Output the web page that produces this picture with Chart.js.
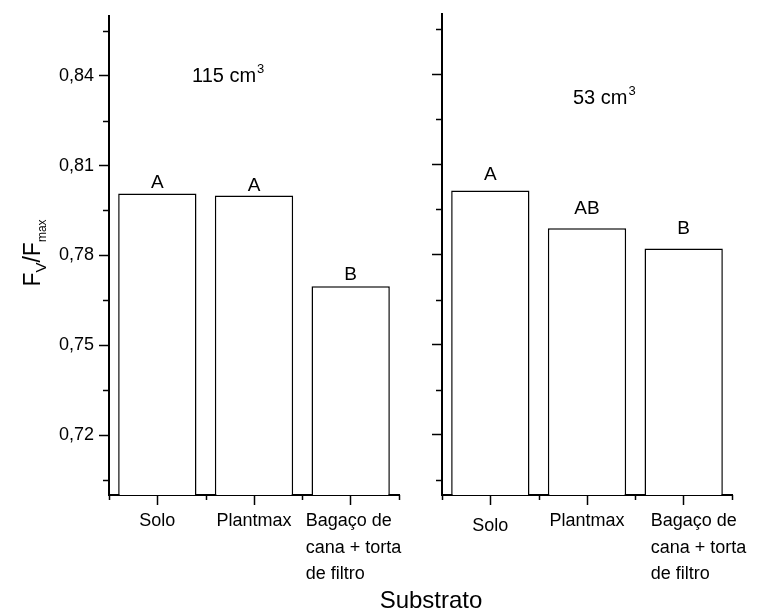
<!DOCTYPE html>
<html><head><meta charset="utf-8">
<script src="https://cdn.jsdelivr.net/npm/chart.js@4/dist/chart.umd.min.js"></script>
<style>
html,body{margin:0;padding:0;background:#fff;}
#wrap{position:relative;width:763px;height:616px;background:#fff;}
canvas{position:absolute;left:0;top:0;}
</style>
</head><body>
<div id="wrap"><canvas id="c1" width="763" height="616"></canvas><canvas id="c2" width="763" height="616"></canvas></div>
<script>
// ---- data ----
const categories = [['Solo'], ['Plantmax'], ['Bagaço de', 'cana + torta', 'de filtro']];
const values115 = [0.8007, 0.8000, 0.7697];
const values53  = [0.8013, 0.7887, 0.7820];
const letters115 = ['A', 'A', 'B'];
const letters53  = ['A', 'AB', 'B'];
const yTicks = [0.72, 0.75, 0.78, 0.81, 0.84];
const yMinorTicks = [0.705, 0.735, 0.765, 0.795, 0.825, 0.855];
const yMin = 0.70, yMax = 0.86;
const panelTitles = [{text: '115 cm', sup: '3'}, {text: '53 cm', sup: '3'}];
const yTitle = [{t: 'F', sub: false}, {t: 'V', sub: true}, {t: '/F', sub: false}, {t: 'max', sub: true}];
const xTitle = 'Substrato';

const FAM = "'Liberation Sans', Arial, sans-serif";
const W = 763, H = 616, AXIS_BOTTOM = 495, AXIS_TOP = 14;

function panelPlugin(p) {
  return {
    id: 'panel' + p.idx,
    afterDraw(chart) {
      const ctx = chart.ctx;
      const ca = chart.chartArea;
      const x = chart.scales.x, y = chart.scales.y;
      ctx.save();
      ctx.strokeStyle = '#000';
      ctx.lineWidth = 1.5;
      // minor y ticks
      yMinorTicks.forEach(v => {
        const py = Math.round(y.getPixelForValue(v)) + 0.5;
        ctx.beginPath(); ctx.moveTo(ca.left - 6, py); ctx.lineTo(ca.left, py); ctx.stroke();
      });
      // minor x ticks at category boundaries
      const n = categories.length;
      const bounds = [ca.left];
      for (let i = 0; i < n - 1; i++) bounds.push((x.getPixelForValue(i) + x.getPixelForValue(i + 1)) / 2);
      bounds.push(ca.right);
      bounds.forEach(bx => {
        const px = Math.round(bx) + 0.5;
        ctx.beginPath(); ctx.moveTo(px, ca.bottom); ctx.lineTo(px, ca.bottom + 5); ctx.stroke();
      });
      // letters above bars
      ctx.fillStyle = '#000';
      ctx.font = '19px ' + FAM;
      ctx.textAlign = 'center';
      ctx.textBaseline = 'alphabetic';
      const meta = chart.getDatasetMeta(0);
      meta.data.forEach((bar, i) => {
        ctx.fillText(p.letters[i], bar.x, bar.y - p.letterGap[i]);
      });
      // x category labels
      ctx.font = '18px ' + FAM;
      categories.forEach((lines, i) => {
        const cx = x.getPixelForValue(i);
        if (lines.length > 1) {
          ctx.textAlign = 'left';
          lines.forEach((ln, j) => ctx.fillText(ln, cx + p.multiDx, 526 + j * 26.5));
        } else {
          ctx.textAlign = 'center';
          ctx.fillText(lines[0], cx, 526 + (p.labelDy[i] || 0));
        }
      });
      // panel title with superscript
      ctx.textAlign = 'left';
      ctx.font = '20px ' + FAM;
      ctx.fillText(p.title.text, p.titleX, p.titleY);
      const tw = ctx.measureText(p.title.text).width;
      ctx.font = '13px ' + FAM;
      ctx.fillText(p.title.sup, p.titleX + tw + 1, p.titleY - 9);
      if (p.idx === 0) {
        // y axis title
        ctx.save();
        ctx.translate(40, 253);
        ctx.rotate(-Math.PI / 2);
        const parts = yTitle.map(s => ({...s, font: (s.sub ? (s.t === 'max' ? '12px ' : '15px ') : '23px ') + FAM}));
        let total = 0;
        parts.forEach(s => { ctx.font = s.font; s.w = ctx.measureText(s.t).width; total += s.w; });
        let cx = -total / 2;
        ctx.textAlign = 'left';
        parts.forEach(s => { ctx.font = s.font; ctx.fillText(s.t, cx, s.sub ? 6 : 0); cx += s.w; });
        ctx.restore();
        // x axis title
        ctx.font = '24px ' + FAM;
        ctx.textAlign = 'center';
        ctx.fillText(xTitle, 431, 608);
      }
      ctx.restore();
    }
  };
}

function makePanel(id, p) {
  return new Chart(document.getElementById(id), {
    type: 'bar',
    data: {
      labels: categories.map(c => c.join(' ')),
      datasets: [{
        data: p.values,
        backgroundColor: '#ffffff',
        borderColor: '#000000',
        borderWidth: 1.5,
        barPercentage: 0.81,
        categoryPercentage: 1.0
      }]
    },
    options: {
      responsive: false,
      animation: false,
      devicePixelRatio: 1,
      layout: {padding: {top: AXIS_TOP, right: W - p.right, left: 0, bottom: 0}},
      plugins: {legend: {display: false}, tooltip: {enabled: false}},
      scales: {
        x: {
          type: 'category',
          offset: true,
          grid: {display: true, drawOnChartArea: false, drawTicks: true, tickLength: 10, tickWidth: 1.5, tickColor: '#000', offset: false},
          border: {display: true, color: '#000', width: 2},
          ticks: {display: false},
          afterFit: s => { s.height = H - AXIS_BOTTOM; }
        },
        y: {
          min: yMin, max: yMax,
          afterBuildTicks: s => { s.ticks = yTicks.map(v => ({value: v})); },
          grid: {display: true, drawOnChartArea: false, drawTicks: true, tickLength: 10, tickWidth: 1.5, tickColor: '#000'},
          border: {display: true, color: '#000', width: 2},
          ticks: {
            display: p.showY, color: '#000', padding: 5,
            font: {size: 18, family: FAM},
            callback: v => Number(v).toFixed(2).replace('.', ',')
          },
          afterFit: s => { s.width = p.left; }
        }
      }
    },
    plugins: [panelPlugin(p)]
  });
}

makePanel('c1', {idx: 0, values: values115, letters: letters115, left: 109, right: 399, showY: true,
  letterGap: [5, 5, 6], multiDx: -45, labelDy: [0, 0], title: panelTitles[0], titleX: 192, titleY: 82});
makePanel('c2', {idx: 1, values: values53, letters: letters53, left: 442, right: 732, showY: false,
  letterGap: [10, 14, 14], multiDx: -33, labelDy: [5, 0], title: panelTitles[1], titleX: 573, titleY: 104});
</script>
</body></html>
